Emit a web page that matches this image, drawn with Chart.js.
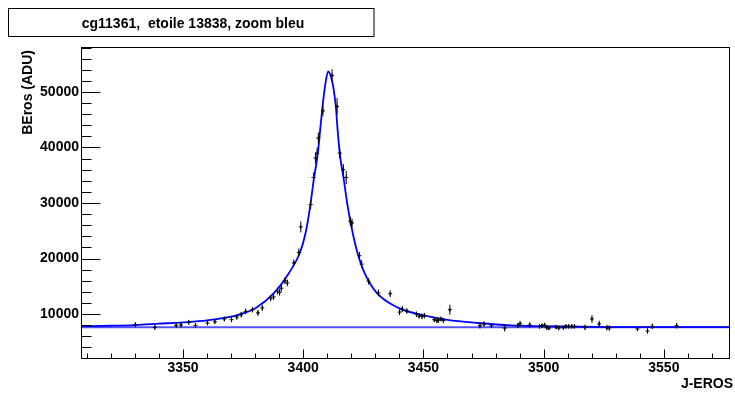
<!DOCTYPE html>
<html><head><meta charset="utf-8">
<script src="https://cdn.jsdelivr.net/npm/chart.js@4/dist/chart.umd.min.js"></script>
<style>html,body{margin:0;padding:0;background:#fff;overflow:hidden}canvas{display:block}</style>
</head><body>
<canvas id="c" width="735" height="393"></canvas>
<script>
const TITLE = "cg11361,  etoile 13838, zoom bleu";
const X_TITLE = "J-EROS";
const Y_TITLE = "BEros (ADU)";
const X_TICKS = [3350, 3400, 3450, 3500, 3550];
const Y_TICKS = [10000, 20000, 30000, 40000, 50000];
const X_MINOR = 10;
const Y_MINOR = 2000;
const X_RANGE = [3307.6, 3577.5];
const Y_RANGE = [1892, 58108];
const BASELINE = 7600;

const pointX = [3330.2,3338.3,3347.2,3349.2,3352.4,3355.2,3360.2,3363.3,3367.2,3370.2,3372.4,3374.2,3376.1,3378.9,3381.2,3383.0,3386.5,3387.7,3389.3,3390.2,3390.9,3392.4,3393.4,3396.1,3398.2,3399.0,3403.1,3404.3,3405.1,3405.8,3406.3,3408.2,3412.0,3414.1,3415.2,3416.7,3417.9,3419.6,3420.3,3423.4,3424.3,3427.2,3431.3,3436.2,3440.1,3441.2,3443.1,3447.1,3448.2,3449.4,3450.4,3454.5,3455.6,3456.2,3457.3,3458.3,3461.0,3473.5,3475.2,3478.3,3483.8,3489.3,3490.2,3494.2,3498.3,3499.3,3500.4,3501.3,3502.2,3505.2,3506.3,3508.2,3509.3,3510.4,3511.7,3512.8,3517.2,3520.1,3523.1,3526.3,3527.3,3539.0,3543.2,3545.2,3555.3];
const pointY = [8070,7590,7950,8020,8490,7950,8380,8610,9100,8970,9460,9870,10470,10770,10200,11100,12850,13060,14150,13900,14650,16000,15600,19200,21100,25700,29700,34600,38100,39000,41700,46600,53000,47400,39000,36000,34600,26700,26400,20500,19000,15900,13800,13650,10350,10900,10550,9950,9650,9570,9700,8970,8800,8850,9100,8850,10770,7890,8200,7890,7450,7950,8250,8020,7770,7890,8020,7530,7470,7650,7470,7530,7770,7770,7770,7770,7590,9100,8200,7530,7470,7290,6930,7770,7890];
const pointErr = [450,450,450,450,450,450,450,450,450,450,500,500,500,500,550,550,550,550,600,600,600,600,600,650,700,1000,750,900,1000,1000,1000,1000,1100,1500,1000,1000,1200,800,800,700,700,600,600,600,550,550,500,500,500,500,500,450,450,450,450,450,900,500,500,400,600,450,500,500,400,400,400,400,400,400,400,400,400,400,400,400,500,700,600,500,500,400,500,500,500];

const fitX = [3307.6,3320,3330,3340,3350,3360,3369,3373.4,3380.3,3387.9,3394.1,3398.6,3401.0,3402.9,3404.4,3406.1,3407.2,3407.9,3408.7,3409.5,3410.4,3411.9,3412.9,3413.7,3414.2,3415.2,3416.9,3418.5,3420.6,3422.6,3425.5,3430.6,3439.6,3450.7,3460,3472.8,3486.5,3500,3515,3530,3577.5];
const fitY = [7800,7880,8000,8250,8500,8850,9450,9900,11100,13800,17400,21000,24600,29400,34200,39000,43800,46800,49800,52200,53700,52200,49800,46800,43800,39000,34200,29400,24600,21000,17400,13800,11100,9700,8950,8380,7950,7800,7700,7650,7620];

const FONT = '"Liberation Sans", Arial, Helvetica, sans-serif';

const points = pointX.map((x, i) => ({x, y: pointY[i]}));
const errSegs = [];
pointX.forEach((x, i) => {
  errSegs.push({x, y: pointY[i] - pointErr[i]});
  errSegs.push({x, y: pointY[i] + pointErr[i]});
  errSegs.push({x, y: null});
});
const fit = fitX.map((x, i) => ({x, y: fitY[i]}));
const base = [{x: X_RANGE[0], y: BASELINE}, {x: X_RANGE[1], y: BASELINE}];

const rootDecor = {
  id: 'rootDecor',
  afterDraw(chart) {
    const {ctx, chartArea: a, scales: {x, y}} = chart;
    ctx.save();
    ctx.strokeStyle = '#000';
    ctx.lineWidth = 1;
    const L = Math.round(a.left) + 0.5, R = Math.round(a.right) - 0.5;
    const T = Math.round(a.top) + 0.5, B = Math.round(a.bottom) - 0.5;
    ctx.strokeRect(L, T, R - L, B - T);
    ctx.beginPath();
    for (let v = Math.ceil(y.min / Y_MINOR) * Y_MINOR; v <= y.max; v += Y_MINOR) {
      const py = Math.round(y.getPixelForValue(v)) + 0.5;
      const len = Y_TICKS.includes(v) ? 19 : 10;
      ctx.moveTo(L, py); ctx.lineTo(L + len, py);
    }
    for (let v = Math.ceil(x.min / X_MINOR) * X_MINOR; v <= x.max; v += X_MINOR) {
      const px = Math.round(x.getPixelForValue(v)) + 0.5;
      const len = X_TICKS.includes(v) ? 9 : 5;
      ctx.moveTo(px, B); ctx.lineTo(px, B - len);
    }
    ctx.stroke();

    // title box
    ctx.strokeRect(8.5, 8.5, 365.5, 28);
    ctx.fillStyle = '#000';
    ctx.font = 'bold 14px ' + FONT;
    ctx.textAlign = 'center';
    ctx.textBaseline = 'alphabetic';
    ctx.fillText(TITLE, 193, 28);

    // x title
    ctx.textAlign = 'right';
    ctx.fillText(X_TITLE, 733, 388);

    // y title
    ctx.save();
    ctx.translate(32, 50);
    ctx.rotate(-Math.PI / 2);
    ctx.textAlign = 'right';
    ctx.fillText(Y_TITLE, 0, 0);
    ctx.restore();
    ctx.restore();
  }
};

new Chart(document.getElementById('c'), {
  type: 'scatter',
  data: {
    datasets: [
      {type: 'line', data: base, borderColor: 'rgba(50,50,255,0.85)', borderWidth: 2, pointRadius: 0, order: 4},
      {type: 'line', data: fit, borderColor: '#0000ff', borderWidth: 1.8, pointRadius: 0, cubicInterpolationMode: 'monotone', order: 3},
      {type: 'line', data: errSegs, borderColor: '#000', borderWidth: 1, pointRadius: 0, spanGaps: false, order: 2},
      {type: 'scatter', data: points, pointStyle: 'cross', radius: 2, borderColor: '#000', borderWidth: 1, backgroundColor: '#000', order: 1}
    ]
  },
  options: {
    responsive: false,
    animation: false,
    devicePixelRatio: 1,
    layout: {padding: {top: 47, right: 2, left: 0, bottom: 0}},
    plugins: {legend: {display: false}, tooltip: {enabled: false}, title: {display: false}},
    scales: {
      x: {
        type: 'linear', min: X_RANGE[0], max: X_RANGE[1],
        afterBuildTicks: s => { s.ticks = X_TICKS.map(v => ({value: v})); },
        afterFit: s => { s.height = 34; },
        grid: {display: false, drawTicks: false},
        border: {display: false},
        ticks: {color: '#000', font: {family: FONT, size: 14, weight: 'bold'}, padding: 1, maxRotation: 0, autoSkip: false, callback: v => String(v)}
      },
      y: {
        type: 'linear', min: Y_RANGE[0], max: Y_RANGE[1],
        afterBuildTicks: s => { s.ticks = Y_TICKS.map(v => ({value: v})); },
        afterFit: s => { s.width = 81; },
        grid: {display: false, drawTicks: false},
        border: {display: false},
        ticks: {color: '#000', font: {family: FONT, size: 14, weight: 'bold'}, padding: 2, autoSkip: false, callback: v => String(v)}
      }
    }
  },
  plugins: [rootDecor]
});
</script>
</body></html>
